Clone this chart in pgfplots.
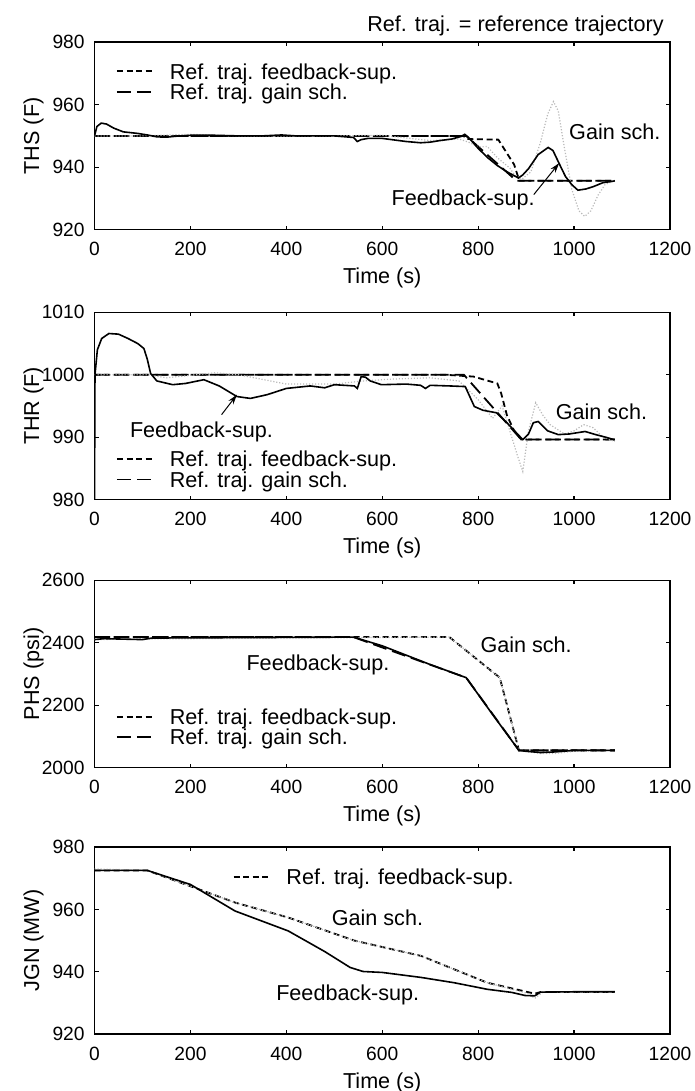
\documentclass[border=0pt]{standalone}
\usepackage{fontspec}
\setmainfont{Liberation Sans}
\usepackage{pgfplots}
\pgfplotsset{compat=1.18}
\usetikzlibrary{arrows.meta}

\newcommand\lblfont{\fontsize{10.8}{12}\selectfont}
\newcommand\tckfont{\fontsize{9.6}{11}\selectfont}

\tikzset{
 sref/.style={black, line width=0.9pt, dash pattern=on 3pt off 1.8pt},
 lref/.style={black, line width=0.9pt, dash pattern=on 7pt off 3pt},
 fbs/.style={black, line width=0.8pt},
 gs/.style={gray!55, line width=0.6pt, dash pattern=on 0.6pt off 0.9pt},
 ann/.style={font=\lblfont, inner sep=0pt},
 arr/.style={-{Stealth[length=5pt,width=3pt]}, line width=0.5pt},
}
\pgfplotsset{
 panel/.style={
  scale only axis, width=287.75pt, height=93.6pt, anchor=north west,
  xmin=0, xmax=1200, xtick={0,200,...,1200},
  tick align=inside, major tick length=2pt,
  axis line style={line width=0.8pt},
  tick style={black, line width=0.6pt},
  ticklabel style={font=\tckfont},
  /pgf/number format/assume math mode=true,
  /pgf/number format/1000 sep={},
  xticklabel style={yshift=-3pt},
  yticklabel style={xshift=-1.45pt},
  xlabel={Time (s)},
  xlabel style={font=\lblfont, at={(axis description cs:0.5,0)}, anchor=base, yshift=-27pt},
  ylabel style={font=\lblfont, at={(axis description cs:-0.106,0.5)}, anchor=center},
  legend style={draw=none, fill=none, inner sep=0pt, outer sep=0pt, anchor=north west,
    row sep=2.4pt, column sep=7pt,
    nodes={inner sep=0pt, font=\lblfont, text height=7.8pt, text depth=0pt}},
  legend cell align=left,
  legend image code/.code={\draw[#1] (0pt,0pt) -- (19pt,0pt);},
 },
}

\begin{document}
\begin{tikzpicture}
\path[use as bounding box] (0,0) rectangle (347.5pt,-545.5pt);

% ---------------- Panel 1: THS ----------------
\begin{axis}[panel, name=p1, at={(47.25pt,-21.15pt)},
  ymin=920, ymax=980, ytick={920,940,960,980}, ylabel={THS (F)},
  legend style={at={(axis description cs:0.0374,0.887)}}]
\addplot[sref] coordinates {(0,950) (770,950) (775,949) (842,948.8) (875,940.8) (886,935.6) (1085,935.6)};
\addlegendentry{Ref. traj. feedback-sup.}
\addplot[lref] coordinates {(0,950) (775,950) (880,935.6) (1085,935.6)};
\addlegendentry{Ref. traj. gain sch.}
\addplot[gs, forget plot] coordinates {(0,950) (100,950) (200,950.5) (300,950) (500,950) (600,950.2) (700,948.5) (760,949) (780,948) (800,946.5) (819,946.6) (840,943) (866,939.7) (878,937) (890,936) (910,938.5) (930,948) (945,957) (957,961) (967,958) (980,946) (995,933) (1010,926) (1022,924.2) (1035,926) (1050,931) (1065,934.5) (1085,935.6)};
\addplot[fbs, forget plot] coordinates {(0,950) (5,953) (14,954.1) (25,953.8) (40,952.5) (60,951.3) (90,950.8) (110,950.3) (130,949.7) (150,949.6) (170,949.9) (200,950.2) (250,950.2) (300,950) (350,950) (390,950.3) (420,950) (500,950) (540,949.5) (548,948.2) (556,948.8) (570,949.2) (600,949.2) (620,948.8) (650,948.2) (680,947.8) (700,948) (720,948.5) (745,949) (764,949.8) (772,950.5) (780,949.5) (800,946) (820,943) (840,940.5) (860,938.5) (884,936.5) (893,937.5) (905,939.5) (925,944) (946,946.3) (956,945.3) (969,941.1) (982,937) (995,934.4) (1008,932.6) (1025,933) (1041,933.8) (1060,935) (1078,935.4) (1085,935.6)};
\node[ann] at (axis cs:1085,951.4) {Gain sch.};
\node[ann] at (axis cs:768.6,929.6) {Feedback-sup.};
\draw[arr] (axis cs:916,931.2) -- (axis cs:969,941.3);
\end{axis}
\node[font=\lblfont, anchor=base east, inner sep=0pt, xshift=-3pt, yshift=5.3pt] at (p1.north east) {Ref. traj. = reference trajectory};

% ---------------- Panel 2: THR ----------------
\begin{axis}[panel, at={(47.25pt,-156.15pt)},
  ymin=980, ymax=1010, ytick={980,990,1000,1010}, ylabel={THR (F)},
  legend style={at={(axis description cs:0.0374,0.258)}}]
\addplot[sref] coordinates {(0,1000) (730,1000) (790,999.7) (840,998.6) (848,997) (860,993.5) (875,991) (890,989.6) (1085,989.6)};
\addlegendentry{Ref. traj. feedback-sup.}
\addplot[lref] coordinates {(0,1000) (770,1000) (890,989.6) (1085,989.6)};
\addlegendentry{Ref. traj. gain sch.}
\addplot[gs, forget plot] coordinates {(0,1000) (110,1000) (150,999.5) (250,1000.3) (300,1000) (400,998.5) (500,998.5) (560,999) (620,999.3) (700,999.5) (760,999) (800,996) (830,993) (850,995) (870,990) (882,987) (893,984.5) (905,991) (920,995.5) (935,993.5) (950,992) (980,990.5) (1000,991) (1020,992) (1040,991.5) (1060,990) (1085,989.3)};
\addplot[fbs, forget plot] coordinates {(0,980) (1,1000) (6,1004) (15,1005.8) (30,1006.6) (50,1006.5) (70,1005.8) (90,1005) (103,1004.2) (110,1002.5) (117,1000.2) (130,999) (163,998.4) (190,998.6) (228,999.2) (260,998.2) (297,996.5) (325,996.2) (360,996.8) (400,997.8) (450,998.2) (480,997.9) (500,998.4) (542,998.2) (548,997.8) (556,999.7) (565,999.6) (575,999) (598,998.4) (650,998.5) (680,998.3) (690,997.8) (700,998.3) (740,998.2) (773,998.1) (792,994.9) (810,994.3) (838,993.9) (860,992.3) (893,989.6) (905,990.5) (915,992.3) (925,992.5) (945,991) (967,990.4) (990,990.5) (1023,990.9) (1045,990.4) (1065,990) (1083,989.6)};
\node[ann] at (axis cs:1057,994.1) {Gain sch.};
\node[ann] at (axis cs:223,990.9) {Feedback-sup.};
\draw[arr] (axis cs:265,993.6) -- (axis cs:297,996.8);
\end{axis}

% ---------------- Panel 3: PHS ----------------
\begin{axis}[panel, at={(47.25pt,-290.15pt)},
  ymin=2000, ymax=2600, ytick={2000,2200,2400,2600}, ylabel={PHS (psi)},
  legend style={at={(axis description cs:0.0374,0.313)}}]
\addplot[sref] coordinates {(0,2418) (740,2418) (845,2288) (885,2055) (1085,2055)};
\addlegendentry{Ref. traj. feedback-sup.}
\addplot[lref] coordinates {(0,2418) (540,2418) (775,2288) (885,2055) (1085,2055)};
\addlegendentry{Ref. traj. gain sch.}
\addplot[gs, forget plot] coordinates {(0,2410) (100,2412) (740,2418) (845,2288) (885,2055) (930,2045) (960,2045) (1000,2052) (1085,2055)};
\addplot[fbs, forget plot] coordinates {(0,2410) (20,2413) (100,2410) (120,2415) (540,2418) (600,2390) (700,2330) (775,2288) (830,2170) (885,2055) (900,2052) (930,2048) (960,2050) (1000,2055) (1085,2055)};
\node[ann] at (axis cs:900,2393) {Gain sch.};
\node[ann] at (axis cs:466,2329) {Feedback-sup.};
\end{axis}

% ---------------- Panel 4: JGN ----------------
\begin{axis}[panel, at={(47.25pt,-423.5pt)},
  ymin=920, ymax=980, ytick={920,940,960,980}, ylabel={JGN (MW)},
  legend style={at={(axis description cs:0.240,0.881)}}]
\addplot[sref] coordinates {(0,972.5) (110,972.5) (293,962.2) (404,957.4) (542,950) (681,945.1) (819,936.5) (918,933) (930,933.5) (1085,933.5)};
\addlegendentry{Ref. traj. feedback-sup.}
\addplot[gs, forget plot] coordinates {(0,973) (110,972.5) (293,962.2) (404,957.4) (542,950) (681,945.1) (819,936.5) (905,933) (918,931.5) (935,933.5) (1085,933.5)};
\addplot[fbs, forget plot] coordinates {(0,972.5) (110,972.5) (200,968) (293,959.5) (404,953.1) (480,946.5) (533,941.4) (560,940.1) (600,939.8) (681,938.2) (750,936.5) (819,934.4) (870,933.4) (898,932.4) (918,932.3) (930,933.5) (1000,933.6) (1085,933.6)};
\node[ann] at (axis cs:590,957.4) {Gain sch.};
\node[ann] at (axis cs:528,932.6) {Feedback-sup.};
\end{axis}
\end{tikzpicture}
\end{document}
